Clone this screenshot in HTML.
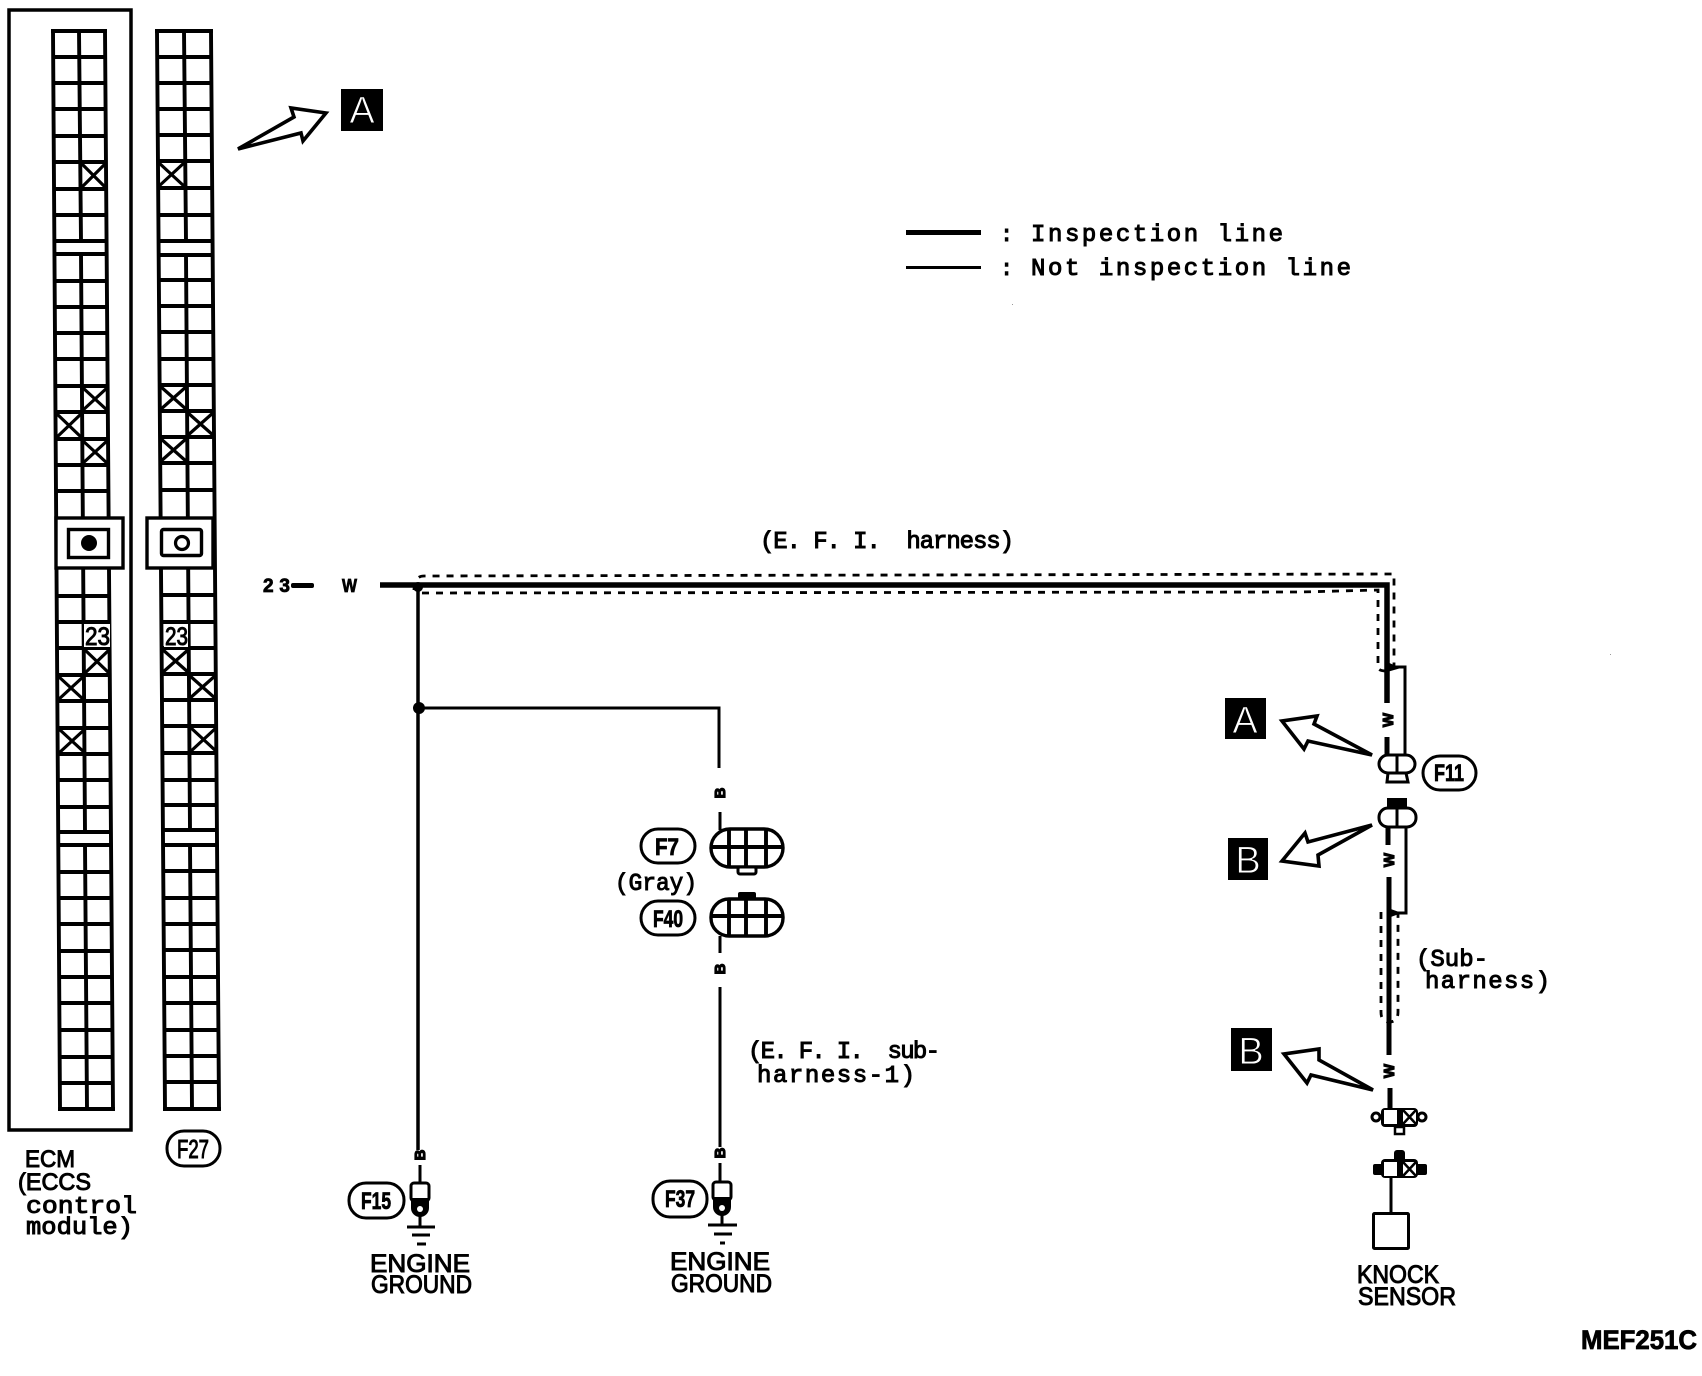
<!DOCTYPE html>
<html>
<head>
<meta charset="utf-8">
<style>
html,body{margin:0;padding:0;background:#fff}
svg{display:block}
.g{fill:none;stroke:#000;stroke-width:3.900}
.x{fill:none;stroke:#000;stroke-width:3.200}
.m{font-family:"Liberation Mono",monospace;fill:#000;stroke:#000;stroke-width:1}
.s{font-family:"Liberation Sans",sans-serif;fill:#000;stroke:#000;stroke-width:1}
.b{font-family:"Liberation Sans",sans-serif;font-weight:bold;fill:#000;stroke:#000;stroke-width:.8}
.k{font-family:"Liberation Sans",sans-serif;font-weight:bold;fill:#000;stroke:#000;stroke-width:1.200;font-size:15px;text-anchor:middle}
.w{font-family:"Liberation Sans",sans-serif;fill:#fff;stroke:#000;stroke-width:.9;font-size:38px;text-anchor:middle}
</style>
</head>
<body>
<svg width="1702" height="1376" viewBox="0 0 1702 1376" xmlns="http://www.w3.org/2000/svg">
<rect width="1702" height="1376" fill="#fff"/>

<!-- ECM box -->
<rect x="9" y="10" width="122" height="1120" fill="none" stroke="#000" stroke-width="3.500"/>

<!-- Left connector -->
<path class="g" d="M53 31L60 1109
M105 31L113 1109
M79 31L81 241M81 254L85 832M85 845L87 1109
M51 31H107M53 57H105M53 83H106M54 109H106M54 136H106M54 162H106M54 189H106M54 215H107M54 241H107
M54 254H107M55 281H108M55 307H108M55 333H108M55 359H108M55 386H108M55 412H108M56 439H109M56 465H109M56 491H109
M57 596H110M57 622H110M57 648H110M57 675H110M57 701H111M58 728H111M58 754H111M58 780H111M58 807H112M58 832H112
M58 845H112M58 872H112M59 898H112M59 924H112M59 951H112M59 977H112M59 1003H113M59 1030H113M60 1057H113M60 1083H113M58 1109H115"/>
<path class="x" d="M81 163L106 188M106 163L81 188
M82 387L108 411M108 387L82 411
M56 413L82 438M82 413L56 438
M82 440L108 464M108 440L82 464
M84 649L110 674M110 649L84 674
M58 676L84 700M84 676L58 700
M59 729L85 753M85 729L59 753"/>
<rect x="56" y="518" width="67" height="50" fill="#fff" stroke="#000" stroke-width="3.400"/>
<rect x="68.500" y="529.500" width="40" height="28" fill="#fff" stroke="#000" stroke-width="3.400"/>
<circle cx="89" cy="543" r="8" fill="#000"/>
<rect x="84" y="624" width="26" height="23" fill="#fff"/>
<text class="s" x="85" y="645" font-size="25" textLength="25" lengthAdjust="spacingAndGlyphs">23</text>

<!-- Right connector -->
<path class="g" d="M157 31L165 1109
M211 31L219 1109
M184 31L186 241M186 255L190 830M190 845L192 1109
M155 31H213M157 57H211M157 83H211M158 109H212M158 135H212M158 161H212M158 188H212M158 215H213M159 241H213
M159 255H213M159 280H213M159 306H213M159 332H214M160 359H214M160 385H214M160 411H214M160 437H214M160 463H214M161 490H215
M161 595H215M162 622H216M162 648H216M162 674H216M162 700H216M162 726H216M162 753H216M163 780H217M163 805H217M163 830H217
M163 845H217M163 871H218M164 898H218M164 924H218M164 950H218M164 977H218M164 1003H218M164 1030H219M165 1056H219M165 1082H219M163 1109H221"/>
<path class="x" d="M158 162L185 187M185 162L158 187
M160 386L187 410M187 386L160 410
M187 412L214 436M214 412L187 436
M160 438L187 462M187 438L160 462
M162 649L189 673M189 649L162 673
M189 675L216 699M216 675L189 699
M190 727L217 752M217 727L190 752"/>
<rect x="147" y="518" width="66" height="50" fill="#fff" stroke="#000" stroke-width="3.400"/>
<rect x="161.500" y="529.500" width="40" height="26" rx="2" fill="#fff" stroke="#000" stroke-width="3.400"/>
<circle cx="182" cy="543" r="6.500" fill="#fff" stroke="#000" stroke-width="3.200"/>
<rect x="164" y="624" width="24" height="23" fill="#fff"/>
<text class="s" x="165" y="645" font-size="25" textLength="23" lengthAdjust="spacingAndGlyphs">23</text>

<!-- F27 -->
<rect x="167" y="1131" width="53" height="35" rx="17" fill="#fff" stroke="#000" stroke-width="3"/>
<text class="s" x="177" y="1158" font-size="26" textLength="32" lengthAdjust="spacingAndGlyphs">F27</text>

<!-- ECM labels -->
<text class="s" x="25" y="1167" font-size="24" textLength="50" lengthAdjust="spacingAndGlyphs">ECM</text>
<text class="s" x="18" y="1190" font-size="24" textLength="73" lengthAdjust="spacingAndGlyphs">(ECCS</text>
<text class="m" x="26" y="1213" font-size="24" textLength="111" lengthAdjust="spacingAndGlyphs">control</text>
<text class="m" x="26" y="1234" font-size="24" textLength="107" lengthAdjust="spacingAndGlyphs">module)</text>

<!-- Top arrow + A -->
<polygon points="326,113 291,108 294,117 238,149 301,133 303,141" fill="#fff" stroke="#000" stroke-width="3.600"/>
<rect x="341" y="89" width="42" height="42" fill="#000"/>
<text class="w" x="362" y="123">A</text>

<!-- Legend -->
<rect x="906" y="230" width="75" height="5" fill="#000"/>
<rect x="906" y="266" width="75" height="3" fill="#000"/>
<text class="m" x="1000" y="241" font-size="22">:</text>
<text class="m" x="1000" y="275" font-size="22">:</text>
<text class="m" x="1031" y="241" font-size="24" textLength="252" lengthAdjust="spacing">Inspection line</text>
<text class="m" x="1031" y="275" font-size="24" textLength="320" lengthAdjust="spacing">Not inspection line</text>
<rect x="1012" y="304" width="1" height="1" fill="#999"/>
<rect x="1610" y="654" width="1" height="1" fill="#999"/>

<!-- Harness title -->
<text class="m" x="760" y="548" font-size="24" textLength="254" lengthAdjust="spacing" xml:space="preserve">(E. F. I.  harness)</text>

<!-- 23 - W -->
<text class="b" x="263" y="592" font-size="19" textLength="27" lengthAdjust="spacing">23</text>
<rect x="291" y="583" width="23" height="5" rx="2" fill="#000"/>
<text class="b" x="342" y="592" font-size="18" textLength="15" lengthAdjust="spacingAndGlyphs">W</text>

<!-- Main wire -->
<path fill="none" stroke="#000" stroke-width="5.500" d="M380 585H1387V703"/>
<path fill="none" stroke="#000" stroke-width="2.800" stroke-dasharray="7 7" d="M414 590Q414 576 424 576L1394 574V667"/>
<path fill="none" stroke="#000" stroke-width="2.800" stroke-dasharray="7 7" d="M422 593L1300 592L1378 590V667Q1378 671 1386 671"/>
<path fill="none" stroke="#000" stroke-width="3.500" d="M418 585V1150"/>
<circle cx="418" cy="587" r="5" fill="#000"/>
<circle cx="419" cy="708" r="6" fill="#000"/>
<path fill="none" stroke="#000" stroke-width="3" d="M419 708H719V768"/>

<!-- B labels center wire -->
<text class="k" transform="translate(725,793) rotate(-90)">B</text>
<path fill="none" stroke="#000" stroke-width="3" d="M720 812V830M720 936V953M720 987V1147M720 1163V1182"/>
<text class="k" transform="translate(725,969) rotate(-90)">B</text>

<!-- F7 -->
<rect x="641" y="829" width="54" height="34" rx="17" fill="#fff" stroke="#000" stroke-width="3"/>
<text class="b" x="667" y="855" font-size="24" text-anchor="middle" textLength="24" lengthAdjust="spacingAndGlyphs">F7</text>
<text class="m" x="615" y="890" font-size="24" textLength="82" lengthAdjust="spacingAndGlyphs">(Gray)</text>
<rect x="711" y="829" width="72" height="38" rx="19" fill="#fff" stroke="#000" stroke-width="3.400"/>
<path class="g" d="M711 847H783M729 829V867M746 829V867M766 829V867"/>
<rect x="738" y="867" width="18" height="7" rx="2" fill="#fff" stroke="#000" stroke-width="3"/>

<!-- F40 -->
<rect x="641" y="901" width="54" height="34" rx="17" fill="#fff" stroke="#000" stroke-width="3"/>
<text class="b" x="668" y="927" font-size="24" text-anchor="middle" textLength="30" lengthAdjust="spacingAndGlyphs">F40</text>
<rect x="711" y="899" width="72" height="37" rx="18" fill="#fff" stroke="#000" stroke-width="3.400"/>
<path class="g" d="M711 916H783M729 899V936M746 899V936M766 899V936"/>
<rect x="738" y="892" width="18" height="7" rx="2" fill="#000"/>

<!-- sub harness 1 label -->
<text class="m" x="748" y="1058" font-size="24" textLength="192" lengthAdjust="spacing" xml:space="preserve">(E. F. I.  sub-</text>
<text class="m" x="757" y="1082" font-size="24" textLength="158" lengthAdjust="spacing">harness-1)</text>

<!-- Ground left -->
<path fill="none" stroke="#000" stroke-width="3" d="M420 1165V1182"/>
<text class="k" transform="translate(425,1155) rotate(-90)">B</text>
<rect x="411" y="1183" width="18" height="18" rx="3" fill="#fff" stroke="#000" stroke-width="3"/>
<path d="M411 1198H429V1208A9 9 0 0 1 411 1208Z" fill="#000"/>
<circle cx="420" cy="1209" r="3" fill="#fff"/>
<path fill="none" stroke="#000" stroke-width="3" d="M420 1216V1227M407 1227H435M412 1235H430M417 1244H426"/>
<rect x="349" y="1183" width="55" height="35" rx="17" fill="#fff" stroke="#000" stroke-width="3"/>
<text class="b" x="376" y="1209" font-size="24" text-anchor="middle" textLength="30" lengthAdjust="spacingAndGlyphs">F15</text>
<text class="s" x="370" y="1272" font-size="25" textLength="100" lengthAdjust="spacingAndGlyphs">ENGINE</text>
<text class="s" x="371" y="1293" font-size="25" textLength="101" lengthAdjust="spacingAndGlyphs">GROUND</text>

<!-- Ground right -->
<text class="k" transform="translate(725,1153) rotate(-90)">B</text>
<rect x="713" y="1182" width="18" height="18" rx="3" fill="#fff" stroke="#000" stroke-width="3"/>
<path d="M713 1197H731V1207A9 9 0 0 1 713 1207Z" fill="#000"/>
<circle cx="722" cy="1208" r="3" fill="#fff"/>
<path fill="none" stroke="#000" stroke-width="3" d="M722 1215V1225M708 1225H737M714 1234H732M720 1243H725"/>
<rect x="653" y="1181" width="54" height="36" rx="17" fill="#fff" stroke="#000" stroke-width="3"/>
<text class="b" x="680" y="1207" font-size="24" text-anchor="middle" textLength="30" lengthAdjust="spacingAndGlyphs">F37</text>
<text class="s" x="670" y="1270" font-size="25" textLength="100" lengthAdjust="spacingAndGlyphs">ENGINE</text>
<text class="s" x="671" y="1292" font-size="25" textLength="101" lengthAdjust="spacingAndGlyphs">GROUND</text>

<!-- Right side wires -->
<path fill="none" stroke="#000" stroke-width="5" d="M1387 737V755M1388 827V845M1389 877V1055M1390 1088V1108"/>
<text class="k" transform="translate(1393,720) rotate(-90)">W</text>
<text class="k" transform="translate(1394,860) rotate(-90)">W</text>
<text class="k" transform="translate(1394,1071) rotate(-90)">W</text>
<path fill="none" stroke="#000" stroke-width="3" d="M1390 667H1405V755M1406 827V913H1392"/>
<polygon points="1387,662 1401,668 1387,672" fill="#000"/>
<polygon points="1388,908 1402,913 1388,918" fill="#000"/>
<path fill="none" stroke="#000" stroke-width="2.800" stroke-dasharray="7 7" d="M1381 912V1012Q1381 1022 1389 1022Q1398 1022 1398 1012V912"/>

<!-- F11 connector -->
<path d="M1388 773H1406L1408 782H1387Z" fill="#fff" stroke="#000" stroke-width="3"/>
<rect x="1379" y="755" width="36" height="18" rx="9" fill="#fff" stroke="#000" stroke-width="3"/>
<path fill="none" stroke="#000" stroke-width="3" d="M1397 755V773"/>
<rect x="1423" y="756" width="53" height="34" rx="17" fill="#fff" stroke="#000" stroke-width="3"/>
<text class="b" x="1449" y="781" font-size="24" text-anchor="middle" textLength="30" lengthAdjust="spacingAndGlyphs">F11</text>

<rect x="1387" y="798" width="20" height="11" fill="#000"/>
<rect x="1379" y="808" width="37" height="19" rx="9" fill="#fff" stroke="#000" stroke-width="3"/>
<path fill="none" stroke="#000" stroke-width="3" d="M1397 808V827"/>

<!-- Arrows -->
<polygon points="1372,755 1314,724 1317,716 1282,721 1304,749 1308,741" fill="#fff" stroke="#000" stroke-width="3.600"/>
<polygon points="1372,825 1318,855 1319,866 1282,861 1305,833 1308,842" fill="#fff" stroke="#000" stroke-width="3.600"/>
<polygon points="1373,1090 1319,1060 1319,1049 1284,1054 1307,1083 1311,1075" fill="#fff" stroke="#000" stroke-width="3.600"/>

<rect x="1225" y="698" width="41" height="41" fill="#000"/>
<text class="w" x="1245" y="733">A</text>
<rect x="1228" y="838" width="40" height="42" fill="#000"/>
<text class="w" x="1248" y="873">B</text>
<rect x="1231" y="1028" width="41" height="43" fill="#000"/>
<text class="w" x="1251" y="1064">B</text>

<!-- Knock connector upper -->
<circle cx="1376" cy="1117" r="4" fill="#fff" stroke="#000" stroke-width="3"/>
<circle cx="1422" cy="1117" r="4" fill="#fff" stroke="#000" stroke-width="3"/>
<rect x="1381" y="1108" width="37" height="19" rx="4" fill="#000"/>
<rect x="1384" y="1110" width="13" height="14" fill="#fff"/>
<rect x="1403" y="1110" width="13" height="14" fill="#fff"/>
<path fill="none" stroke="#000" stroke-width="2.500" d="M1403 1110L1416 1124M1416 1110L1403 1124"/>
<rect x="1395" y="1127" width="9" height="7" fill="#fff" stroke="#000" stroke-width="2.500"/>

<!-- Knock connector lower -->
<rect x="1394" y="1150" width="11" height="12" rx="3" fill="#000"/>
<rect x="1373" y="1164" width="54" height="11" rx="2" fill="#000"/>
<rect x="1381" y="1159" width="37" height="19" rx="4" fill="#000"/>
<rect x="1384" y="1162" width="13" height="14" fill="#fff"/>
<rect x="1403" y="1162" width="13" height="14" fill="#fff"/>
<path fill="none" stroke="#000" stroke-width="2.500" d="M1403 1162L1416 1176M1416 1162L1403 1176"/>
<path fill="none" stroke="#000" stroke-width="3" d="M1391 1177V1213"/>
<rect x="1373.500" y="1213.500" width="35" height="35" rx="1" fill="#fff" stroke="#000" stroke-width="3"/>

<!-- Right labels -->
<text class="m" x="1416" y="966" font-size="24" textLength="72" lengthAdjust="spacing">(Sub-</text>
<text class="m" x="1425" y="988" font-size="24" textLength="125" lengthAdjust="spacing">harness)</text>
<text class="s" x="1357" y="1283" font-size="25" textLength="82" lengthAdjust="spacingAndGlyphs">KNOCK</text>
<text class="s" x="1358" y="1305" font-size="25" textLength="98" lengthAdjust="spacingAndGlyphs">SENSOR</text>
<text class="b" x="1581" y="1349" font-size="27" textLength="116" lengthAdjust="spacingAndGlyphs">MEF251C</text>
</svg>
</body>
</html>
